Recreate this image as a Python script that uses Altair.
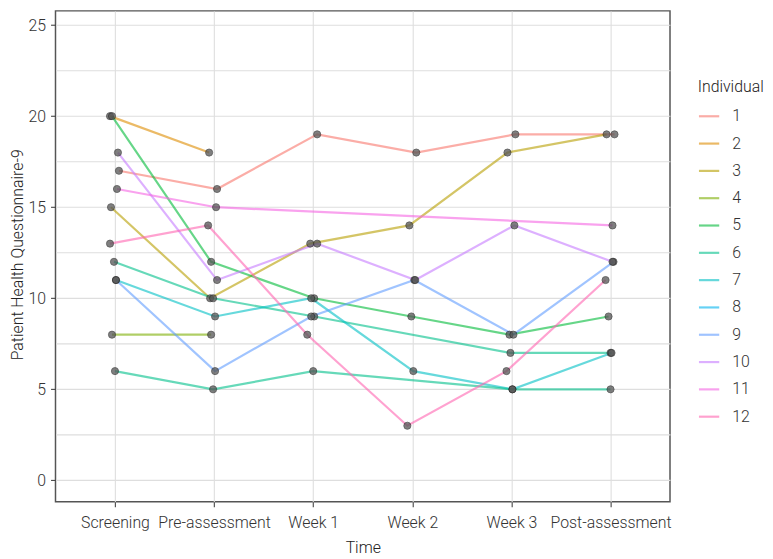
import altair as alt
import pandas as pd

# ---- data ----
times = ["Screening", "Pre-assessment", "Week 1", "Week 2", "Week 3", "Post-assessment"]
individuals = ["1", "2", "3", "4", "5", "6", "7", "8", "9", "10", "11", "12"]
hue_colors = ["#F8766D", "#DE8C00", "#B79F00", "#7CAE00", "#00BA38", "#00C08B",
              "#00BFC4", "#00B4F0", "#619CFF", "#C77CFF", "#F564E3", "#FF64B0"]

# one entry per drawn line: colour label, scores per time point (None = missing)
line_labels = ["1", "2", "3", "4", "5", "6", "7", "6", "9", "10", "11", "12"]
scores = [
    [17, 16, 19, 18, 19, 19],
    [20, 18, None, None, None, None],
    [15, 10, 13, 14, 18, 19],
    [8, 8, None, None, None, None],
    [20, 12, 10, 9, 8, 9],
    [12, 10, 9, None, 7, 7],
    [11, 9, 10, 6, 5, 7],
    [6, 5, 6, None, 5, 5],
    [11, 6, 9, 11, 8, 12],
    [18, 11, 13, 11, 14, 12],
    [16, 15, None, None, None, 14],
    [13, 14, 8, 3, 6, 11],
]
# horizontal jitter of each point (in time-category units)
jitter = [
    [0.04, 0.03, 0.04, 0.04, 0.04, 0.04],
    [-0.05, -0.05, 0, 0, 0, 0],
    [-0.04, -0.04, -0.03, -0.03, -0.04, -0.04],
    [-0.03, -0.03, 0, 0, 0, 0],
    [-0.03, -0.03, 0.01, -0.01, -0.02, -0.02],
    [-0.01, -0.01, 0.01, 0, -0.01, 0.00],
    [0.01, 0.01, -0.02, 0.01, 0.01, 0.01],
    [0.00, -0.01, 0.00, 0, 0.01, 0.00],
    [0.01, 0.01, -0.02, 0.02, 0.02, 0.03],
    [0.03, 0.03, 0.04, 0.03, 0.03, 0.02],
    [0.02, 0.02, 0, 0, 0, 0.02],
    [-0.05, -0.06, -0.06, -0.05, -0.05, -0.05],
]

rows = []
for li, (lab, sc, jt) in enumerate(zip(line_labels, scores, jitter)):
    for ti, (s, j) in enumerate(zip(sc, jt)):
        if s is None:
            continue
        rows.append({"line": li, "Individual": lab, "t": ti + 1,
                     "x": ti + 1 + j, "score": s})
df = pd.DataFrame(rows)

FONT = "Roboto"
W = 300
label_expr = "[" + ",".join("'%s'" % t for t in times) + "][round(datum.value)-1]"

x_enc = alt.X("x:Q",
              scale=alt.Scale(domain=[0.4, 6.6], nice=False, zero=False),
              axis=alt.Axis(values=[1, 2, 3, 4, 5, 6], labelExpr=label_expr,
                            title="Time", grid=True, tickSize=5,
                            labelPadding=8, titlePadding=9, domain=False))
y_enc = alt.Y("score:Q",
              scale=alt.Scale(domain=[-1.17, 25.78], nice=False, zero=False),
              axis=alt.Axis(values=[v * 2.5 for v in range(11)],
                            labelExpr="datum.value % 5 == 0 ? datum.value : ''",
                            tickOpacity={"condition": {"test": "datum.value % 5 != 0", "value": 0}, "value": 1},
                            title="Patient Health Questionnaire-9", grid=True,
                            titleX=-38, titleY=246, titleBaseline="middle",
                            titleAlign="center", titleAngle=270,
                            tickSize=5, labelPadding=5, domain=False))

lines = alt.Chart(df).mark_line(strokeWidth=2.2, opacity=0.6).encode(
    x=x_enc, y=y_enc,
    color=alt.Color("Individual:N",
                    scale=alt.Scale(domain=individuals, range=hue_colors),
                    legend=alt.Legend(title="Individual", orient="none",
                                      legendX=649, legendY=69,
                                      symbolType="stroke", symbolSize=420,
                                      symbolStrokeWidth=2.2, symbolOpacity=0.6,
                                      labelOffset=12, rowPadding=7.6,
                                      titlePadding=10)),
    detail="line:N",
    order="t:Q",
)

points = alt.Chart(df).mark_circle(size=52, color="#555555", opacity=0.75,
                                   stroke="#222222", strokeWidth=0.8).encode(
    x="x:Q", y="score:Q")

chart = (lines + points).properties(
    width=621, height=496,
    autosize=alt.AutoSizeParams(type="none"),
    padding={"left": 48, "top": 0, "right": 96, "bottom": 55},
).configure(font=FONT).configure_view(
    stroke="#555555", strokeWidth=1.5
).configure_axis(
    gridColor="#dedede", gridWidth=1.1,
    tickColor="#444444", tickWidth=1.1,
    labelFont=FONT, labelFontSize=16, labelColor="#333333", labelFontWeight=W,
    titleFont=FONT, titleFontSize=16, titleColor="#222222", titleFontWeight=W,
).configure_legend(
    labelFont=FONT, labelFontSize=16, labelColor="#333333", labelFontWeight=W,
    titleFont=FONT, titleFontSize=16, titleColor="#222222", titleFontWeight=W,
)

chart.save("out.html", embed_options={"renderer": "svg", "actions": False})
